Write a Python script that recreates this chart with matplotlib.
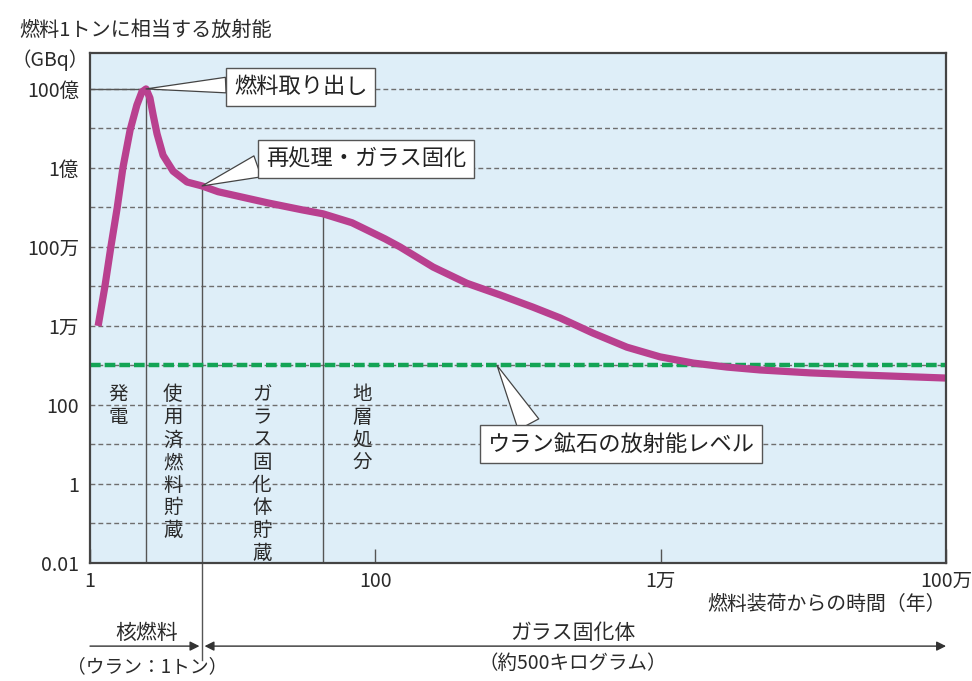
import numpy as np
import matplotlib
matplotlib.use("Agg")
import matplotlib.pyplot as plt

plt.rcParams["font.family"] = ["Noto Sans CJK JP", "DejaVu Sans"]

# curve: years since fuel loading vs activity (GBq per tonne of fuel)
years = [1.14, 1.27, 1.40, 1.55, 1.70, 1.91, 2.13, 2.31, 2.47, 2.63, 2.77, 2.95,
         3.25, 3.82, 4.79, 6.1, 7.9, 10.4, 17.7, 30.6, 43, 68.6, 87, 117, 149,
         254, 439, 748, 1270, 1970, 3350, 5800, 9900, 16900, 29200, 49700,
         111000, 250000, 1000000]
activity = [1.0e4, 9.7e4, 1.0e6, 9.7e6, 1.0e8, 9.1e8, 3.9e9, 8.4e9, 1.0e10,
            5.9e9, 2.2e9, 7.3e8, 2.1e8, 8.3e7, 4.4e7, 3.5e7, 2.5e7, 2.0e7,
            1.3e7, 8.7e6, 6.9e6, 4.1e6, 2.7e6, 1.6e6, 1.0e6, 3.1e5, 1.2e5,
            6.1e4, 3.0e4, 1.6e4, 6.6e3, 2.9e3, 1.65e3, 1.15e3, 910, 770, 650,
            575, 480]

uranium_ore_level = 1000

y_ticks = [1e-2, 1, 1e2, 1e4, 1e6, 1e8, 1e10]
y_labels = ["0.01", "1", "100", "1万", "100万", "1億", "100億"]
x_ticks = [1, 1e2, 1e4, 1e6]
x_labels = ["1", "100", "1万", "100万"]

# stage boundaries (years) and the curve value where each boundary line starts
boundaries = [2.47, 6.1, 43]
boundary_tops = [1.0e10, 3.5e7, 6.9e6]

stage_names = ["発電", "使用済燃料貯蔵", "ガラス固化体貯蔵", "地層処分"]
stage_x = [1.57, 3.8, 16, 80.5]

TXT = "#2a2a2a"

fig = plt.figure(figsize=(9.72, 6.81), dpi=100)
ax = fig.add_axes([0.0926, 0.1733, 0.8807, 0.7489])
ax.set_facecolor("#deeef8")
ax.set_xscale("log")
ax.set_yscale("log")
ax.set_xlim(1, 1e6)
ax.set_ylim(1e-2, 10 ** 10.91)

# grid every decade
for e in range(-1, 11):
    ax.axhline(10.0 ** e, color="#6e6e6e", lw=1.0, dashes=(3.5, 2.2), zorder=1)
ax.plot([1, boundaries[0]], [1e10, 1e10], color="#555555", lw=1.0, zorder=2)

# boundary lines
for bx, top in zip(boundaries, boundary_tops):
    ax.plot([bx, bx], [1e-2, top], color="#555555", lw=1.0, zorder=2)
ax.plot([boundaries[1], boundaries[1]], [0, -0.19], color="#555555", lw=1.0,
        transform=ax.get_xaxis_transform(), clip_on=False)

ax.axhline(uranium_ore_level, color="#13a455", lw=3.2, dashes=(2.4, 0.9),
           dash_capstyle="butt", zorder=3)
ax.plot(years, activity, color="#b9408f", lw=5.2, solid_capstyle="butt",
        solid_joinstyle="round", zorder=4)

for name, sx in zip(stage_names, stage_x):
    ax.text(sx, 10 ** 2.52, "\n".join(name), ha="center", va="top", fontsize=14,
            linespacing=1.1, color=TXT, zorder=5)


def callout(text, tip, pos, relpos, width):
    box = dict(boxstyle="square,pad=0.35", fc="white", ec="#555555", lw=1.0)
    wedge = dict(arrowstyle="wedge,tail_width=%.2f,shrink_factor=0.5" % width,
                 fc="white", ec="#444444", lw=0.9, shrinkA=0, shrinkB=0,
                 relpos=relpos)
    ax.annotate(text, xy=tip, xytext=pos, fontsize=16, ha="center", va="center",
                bbox=box, arrowprops=wedge, color="#222222", zorder=6)


callout("燃料取り出し", (2.47, 1e10), (30, 1.12e10), (0, 0.6), 0.7)
callout("再処理・ガラス固化", (6.1, 3.5e7), (86, 1.7e8), (0, 0.3), 1.0)
callout("ウラン鉱石の放射能レベル", (713, 1000), (5270, 10.2), (0.17, 1), 1.05)

ax.set_yticks(y_ticks)
ax.set_yticklabels(y_labels)
ax.set_xticks(x_ticks)
ax.set_xticklabels(x_labels)
ax.minorticks_off()
ax.tick_params(axis="y", length=0, pad=8, labelsize=14, labelcolor=TXT)
ax.tick_params(axis="x", direction="in", length=10, width=1.0, color="#555555",
               pad=6, labelsize=14, labelcolor=TXT)
for s in ax.spines.values():
    s.set_color("#444444")
    s.set_linewidth(1.6)
    s.set_zorder(7)

# time ranges under the axis
arr = dict(arrowstyle="-|>", color="#333333", lw=1.0, mutation_scale=14,
           shrinkA=0, shrinkB=0)
tr = ("data", "axes fraction")
ax.annotate("", xy=(5.85, -0.163), xytext=(1, -0.163), xycoords=tr, textcoords=tr,
            arrowprops=arr)
ax.annotate("", xy=(6.35, -0.163), xytext=(1e6, -0.163), xycoords=tr,
            textcoords=tr, arrowprops=dict(arr, arrowstyle="<|-|>"))
xt = ax.get_xaxis_transform()
ax.text(2.5, -0.137, "核燃料", transform=xt, ha="center", va="center",
        fontsize=15, color=TXT)
ax.text(2.5, -0.203, "（ウラン：1トン）", transform=xt, ha="center", va="center",
        fontsize=13.5, color=TXT)
ax.text(2430, -0.137, "ガラス固化体", transform=xt, ha="center", va="center",
        fontsize=15, color=TXT)
ax.text(2430, -0.197, "（約500キログラム）", transform=xt, ha="center", va="center",
        fontsize=14, color=TXT)

fig.text(0.9733, 0.112, "燃料装荷からの時間（年）", ha="right", va="center",
         fontsize=14.3, color=TXT)
fig.text(0.02, 0.955, "燃料1トンに相当する放射能", ha="left", va="center",
         fontsize=14.5, color=TXT)
fig.text(0.012, 0.912, "（GBq）", ha="left", va="center", fontsize=14,
         color=TXT)

fig.savefig("out.png", dpi=100)
